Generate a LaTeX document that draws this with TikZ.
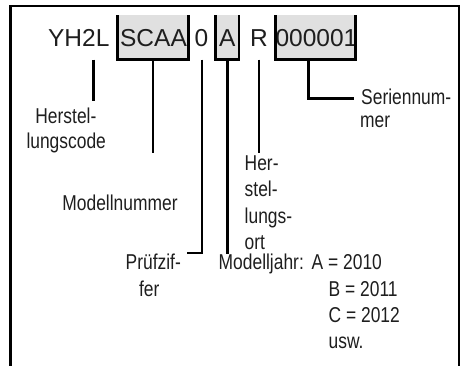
\documentclass[tikz,border=0pt]{standalone}
\usepackage{fontspec}
\setmainfont{Liberation Sans}
\newfontfamily\narrowfont[FakeStretch=0.81]{Liberation Sans}
\definecolor{boxgray}{RGB}{224,224,224}
\definecolor{textgray}{RGB}{30,30,30}
\begin{document}
\begin{tikzpicture}[x=1pt,y=-1pt,
  lw/.style={line width=2.6pt},
  frameline/.style={lw, black},
  bracketline/.style={lw, black},
  conn/.style={lw, black},
  gbox/.style={fill=boxgray, draw=none, inner sep=0pt, outer sep=0pt},
  code/.style={font=\fontsize{24.5}{28}\selectfont, inner sep=0pt, anchor=base, text=textgray},
  lbl/.style={font=\narrowfont\fontsize{21.5}{25}\selectfont, inner sep=0pt, anchor=base west, text=textgray},
  lblc/.style={lbl, anchor=base}
]
\useasboundingbox (0,0) rectangle (461,365);
% frame (open at the bottom)
\coordinate (fbl) at (10.5,367);
\coordinate (ftl) at (10.5,6);
\coordinate (ftr) at (459,6);
\coordinate (fbr) at (459,367);
\draw[frameline] (fbl) -- (ftl) -- (ftr) -- (fbr);

% grey boxes
\node[gbox, minimum width=71.4pt, minimum height=44.7pt] (scaabox) at (153,37.35) {};
\node[gbox, minimum width=23.3pt, minimum height=44.7pt] (abox) at (227.35,37.35) {};
\node[gbox, minimum width=79.6pt, minimum height=44.7pt] (serbox) at (315.5,37.35) {};

% code characters
\node[code] (yh2l) at (78.8,46) {YH2L};
\node[code] (scaa) at (153.5,46) {SCAA};
\node[code] (zero) at (201.5,46) {0};
\node[code] (achar) at (227.4,46) {A};
\node[code] (rchar) at (259,46) {R};
\node[code] (serial) at (316.5,46) {000001};

% brackets
\draw[bracketline] (scaabox.north west) -- (scaabox.south west) -- (scaabox.south east) -- (scaabox.north east);
\draw[bracketline] (abox.north west) -- (abox.south west) -- (abox.south east) -- (abox.north east);
\draw[bracketline] (serbox.north west) -- (serbox.south west) -- (serbox.south east) -- (serbox.north east);

% connector end points
\coordinate (hcTop) at (93.3,59.5);
\coordinate (hcEnd) at (93.3,101);
\coordinate (mnEnd) at (153,153.3);
\coordinate (pzTop) at (202,59.5);
\coordinate (pzCorner) at (202,253);
\coordinate (pzEnd) at (187.3,253);
\coordinate (mjEnd) at (227.35,254.3);
\coordinate (hoTop) at (259,59.5);
\coordinate (hoEnd) at (259,153.3);
\coordinate (snTop) at (308.7,59.7);
\coordinate (snCorner) at (308.7,98.3);
\coordinate (snEnd) at (354,98.3);

% connectors
\draw[conn] (hcTop) -- (hcEnd);
\draw[conn] (scaabox.south) -- (mnEnd);
\draw[conn] (pzTop) -- (pzCorner) -- (pzEnd);
\draw[conn] (abox.south) -- (mjEnd);
\draw[conn] (hoTop) -- (hoEnd);
\draw[conn] (snTop) -- (snCorner) -- (snEnd);

% labels
\node[lblc] (hc1) at (65.9,123.3) {Herstel-};
\node[lblc] (hc2) at (66.2,148.3) {lungscode};
\node[lblc] (mn) at (120,210) {Modellnummer};
\node[lblc] (pz1) at (153.3,269.3) {Prüfzif-};
\node[lblc] (pz2) at (149.2,296.7) {fer};
\node[lbl] (sn1) at (361,104) {Seriennum-};
\node[lbl] (sn2) at (360,127.5) {mer};
\node[lbl] (ho1) at (244.5,170) {Her-};
\node[lbl] (ho2) at (244.5,196.7) {stel-};
\node[lbl] (ho3) at (244.5,223.3) {lungs-};
\node[lbl] (ho4) at (244.5,249.3) {ort};
\node[lbl] (mj) at (218.5,269.3) {Modelljahr:};
\node[lbl] (mjA) at (311.5,269.3) {A = 2010};
\node[lbl] (mjB) at (328.5,296) {B = 2011};
\node[lbl] (mjC) at (328.5,322.3) {C = 2012};
\node[lbl] (mjD) at (328.5,348.3) {usw.};
\end{tikzpicture}
\end{document}
